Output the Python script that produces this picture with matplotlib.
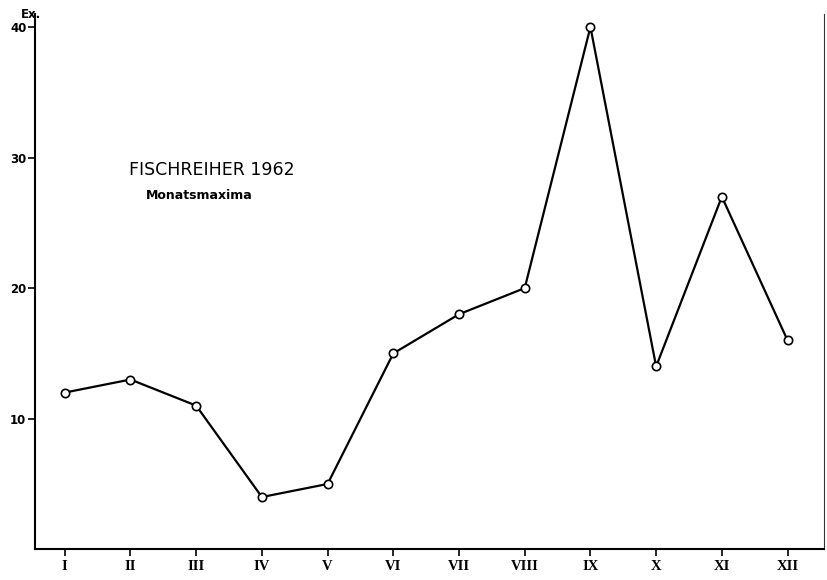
#!/usr/bin/env python3
import matplotlib
matplotlib.use('Agg')
import matplotlib.pyplot as plt

# Fischreiher 1962, Monatsmaxima (Ex.)
months = ['I', 'II', 'III', 'IV', 'V', 'VI', 'VII', 'VIII', 'IX', 'X', 'XI', 'XII']
maxima = [12, 13, 11, 4, 5, 15, 18, 20, 40, 14, 27, 16]
y_ticks = [10, 20, 30, 40]

fig = plt.figure(figsize=(8.27, 5.8), dpi=100)
axes = fig.add_axes([0.042, 0.053, 0.954, 0.923])

x = list(range(1, len(months) + 1))
axes.plot(x, maxima, color='black', linewidth=1.6,
  marker='o', markersize=6, markerfacecolor='white',
  markeredgecolor='black', markeredgewidth=1.2, zorder=3)

axes.set_xlim(0.543, 12.55)
axes.set_ylim(0, 41)

axes.set_xticks(x)
axes.set_xticklabels(months, family='Liberation Serif', fontsize=10.5,
  fontweight='bold')
axes.set_yticks(y_ticks)
axes.set_yticklabels([str(v) for v in y_ticks], fontsize=8.5,
  fontweight='bold')
axes.tick_params(axis='both', direction='out', length=5, width=1.2,
  color='black')
axes.tick_params(axis='x', pad=3)
axes.tick_params(axis='y', pad=1)

axes.spines['top'].set_visible(False)
axes.spines['left'].set_linewidth(1.5)
axes.spines['bottom'].set_linewidth(1.5)
axes.spines['right'].set_linewidth(0.8)
axes.spines['right'].set_color('#333333')

axes.text(0.120, 0.708, 'FISCHREIHER 1962', transform=axes.transAxes,
  fontsize=12.5, va='center', ha='left')
axes.text(0.141, 0.660, 'Monatsmaxima', transform=axes.transAxes,
  fontsize=9, fontweight='bold', va='center', ha='left')
fig.text(0.025, 0.975, 'Ex.', fontsize=8.5, fontweight='bold',
  va='center', ha='left')

fig.savefig('out.png', dpi=100)
plt.close(fig)
